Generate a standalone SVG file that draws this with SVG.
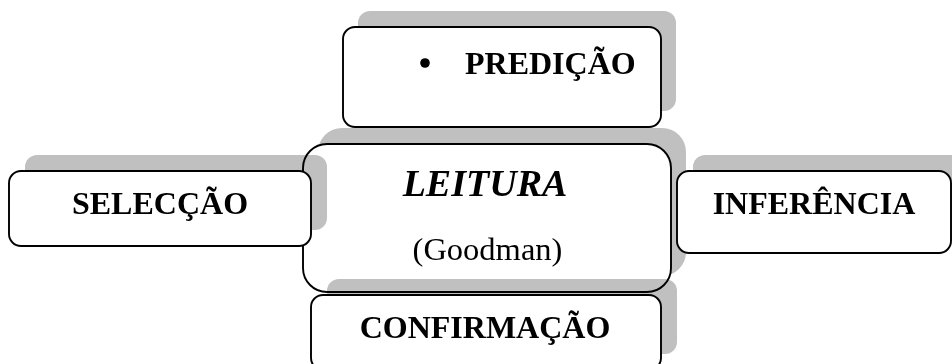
<svg xmlns="http://www.w3.org/2000/svg" width="952" height="364" viewBox="0 0 952 364">
<style>
.shadow{fill:#c0c0c0;mix-blend-mode:multiply}
.box{fill:#ffffff;stroke:#000000;stroke-width:1.9}
.t{font-family:"Liberation Serif","Times New Roman",serif;font-size:32px;font-weight:bold;fill:#000000}
.c{text-anchor:middle}
.title{font-style:italic;font-size:38px}
.sub{font-weight:normal;font-size:32.5px}
</style>
<rect width="952" height="364" fill="#ffffff"/>
<g id="connectors"></g>
<g id="predicao">
<rect class="shadow" x="358" y="11" width="318" height="100" rx="12"/>
<rect class="box" x="343" y="27" width="318" height="100" rx="12"/>
<circle cx="425" cy="63" r="4.8" fill="#000000"/>
<text class="t" x="465" y="74">PREDIÇÃO</text>
</g>
<g id="leitura">
<rect class="shadow" x="318" y="128" width="368" height="148" rx="24"/>
<rect class="box" x="303" y="144" width="368" height="148" rx="24"/>
<text class="t c title" x="485" y="196">LEITURA</text>
<text class="t c sub" x="487.5" y="260">(Goodman)</text>
</g>
<g id="seleccao">
<rect class="shadow" x="25" y="155" width="302" height="75" rx="12"/>
<rect class="box" x="9" y="171" width="302" height="75" rx="12"/>
<text class="t c" x="160" y="214">SELECÇÃO</text>
</g>
<g id="inferencia">
<rect class="shadow" x="693" y="155" width="274" height="82" rx="12"/>
<rect class="box" x="677" y="171" width="274" height="82" rx="12"/>
<text class="t c" x="814" y="214">INFERÊNCIA</text>
</g>
<g id="confirmacao">
<rect class="shadow" x="327" y="279" width="350" height="75" rx="12"/>
<rect class="box" x="311" y="295" width="350" height="75" rx="12"/>
<text class="t c" x="485" y="338">CONFIRMAÇÃO</text>
</g>
</svg>
